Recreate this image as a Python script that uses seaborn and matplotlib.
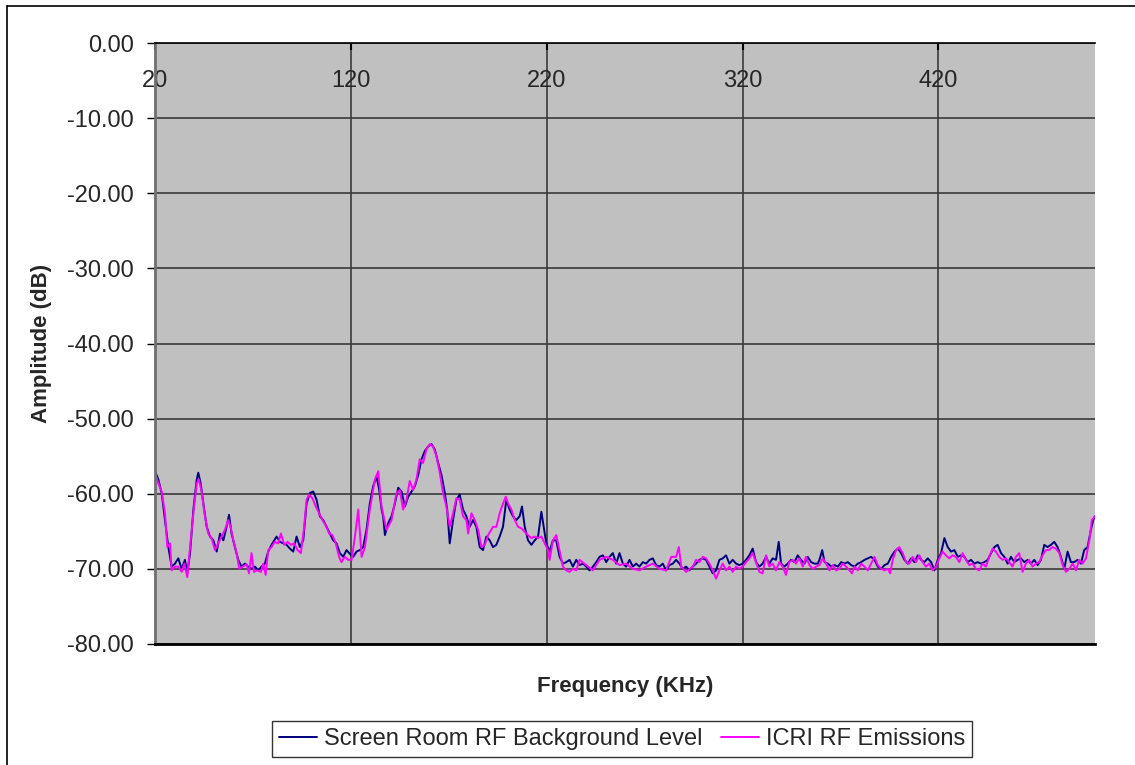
import numpy as np
import pandas as pd
import matplotlib
matplotlib.use("Agg")
import matplotlib.pyplot as plt
from matplotlib.lines import Line2D
from matplotlib.ticker import FormatStrFormatter
import seaborn as sns

sns.set_theme(style="white")
plt.rcParams['font.family'] = ['Liberation Sans', 'DejaVu Sans']

# series names
bg_name = "Screen Room RF Background Level"
icri_name = "ICRI RF Emissions"

# background level (KHz, dB)
freq_bg = [20.0, 21.7, 23.4, 25.1, 26.8, 28.5, 30.2, 31.9, 33.6, 35.3, 36.5, 37.9, 39.6, 41.3, 42.1,
           43.3, 44.7, 46.4, 48.1, 49.8, 51.5, 53.2, 54.9, 56.2, 57.8, 59.1, 60.8, 62.5, 64.2, 65.9,
           67.6, 69.3, 71.0, 72.7, 74.4, 76.1, 77.8, 79.5, 82.1, 83.8, 85.5, 87.2, 88.9, 90.6, 92.3,
           94.0, 95.7, 97.4, 99.1, 100.8, 102.5, 104.2, 105.9, 107.6, 109.3, 111.0, 112.7, 114.4,
           116.1, 117.8, 119.5, 121.2, 122.9, 124.6, 126.3, 128.0, 129.7, 131.4, 133.1, 134.5,
           135.7, 136.5, 137.4, 139.1, 140.8, 142.5, 144.2, 145.9, 147.6, 149.3, 151.0, 152.7,
           154.4, 156.1, 157.8, 159.5, 161.2, 162.9, 164.6, 166.3, 168.0, 169.2, 170.5, 172.2,
           173.9, 175.6, 177.3, 179.0, 180.7, 182.4, 184.1, 185.8, 187.5, 189.2, 190.9, 192.6,
           194.3, 196.0, 197.7, 199.4, 201.1, 202.8, 204.5, 206.2, 207.4, 208.8, 210.5, 212.2,
           213.9, 215.6, 217.3, 218.5, 219.8, 221.5, 223.2, 224.9, 226.6, 228.3, 230.0, 231.7,
           233.4, 235.1, 236.8, 238.5, 240.2, 241.9, 243.6, 245.3, 247.0, 248.7, 250.4, 252.1,
           253.8, 255.5, 257.2, 258.9, 260.6, 262.3, 264.0, 265.7, 267.4, 269.1, 270.8, 272.5,
           274.2, 275.9, 277.6, 279.3, 281.0, 282.7, 284.4, 286.1, 287.8, 289.5, 291.2, 292.9,
           294.6, 296.3, 298.0, 299.7, 301.4, 303.1, 304.8, 306.5, 308.2, 309.9, 311.6, 313.3,
           315.0, 316.7, 318.4, 320.1, 321.8, 323.5, 325.2, 326.9, 328.6, 330.3, 332.0, 333.7,
           335.4, 337.1, 338.5, 339.7, 341.4, 343.1, 344.8, 346.5, 348.2, 349.9, 351.6, 353.3,
           355.0, 356.7, 358.4, 359.3, 360.7, 361.9, 363.6, 365.3, 367.0, 368.7, 370.4, 372.1,
           373.8, 375.5, 377.2, 378.9, 380.6, 382.3, 384.0, 385.7, 387.4, 389.1, 390.8, 392.5,
           394.2, 395.9, 397.6, 399.3, 401.0, 402.7, 404.4, 406.1, 407.8, 409.5, 411.2, 412.9,
           414.6, 416.3, 418.0, 419.7, 421.4, 423.1, 424.8, 426.5, 428.2, 429.9, 431.6, 433.3,
           435.0, 436.7, 438.4, 440.1, 441.8, 443.5, 445.2, 446.9, 448.6, 450.3, 452.0, 453.7,
           455.4, 457.1, 458.8, 460.5, 462.2, 463.9, 465.6, 467.3, 469.0, 470.7, 472.4, 474.1,
           475.8, 477.5, 479.2, 480.9, 482.6, 484.3, 486.0, 487.7, 489.4, 491.1, 492.8, 494.5,
           496.2, 497.9, 499.1, 500.0]
amp_bg = [-57.0, -58.1, -59.9, -63.5, -67.1, -69.7, -69.3, -68.6, -70.0, -68.8, -70.6, -67.9, -62.1, -58.1, -57.2,
          -58.6, -61.3, -64.4, -65.7, -66.2, -67.7, -65.3, -66.2, -64.8, -62.8, -65.3, -67.1, -68.8, -69.7, -69.3,
          -69.7, -70.0, -69.7, -70.2, -69.7, -69.3, -67.7, -66.8, -65.7, -66.4, -66.6, -66.8, -67.3, -67.7, -65.7,
          -67.1, -66.2, -61.3, -59.9, -59.7, -60.8, -63.0, -63.5, -64.4, -65.3, -66.2, -66.6, -67.9,
          -68.4, -67.5, -68.0, -68.4, -67.7, -67.5, -67.1, -64.8, -61.3, -59.0, -57.7, -59.5,
          -62.1, -63.0, -65.5, -63.9, -63.0, -61.3, -59.2, -59.7, -61.7, -60.4, -59.7, -59.0,
          -57.5, -55.4, -54.3, -53.7, -53.4, -54.1, -55.9, -57.5, -59.9, -62.1, -66.6, -63.5,
          -60.8, -60.1, -62.1, -63.0, -64.4, -63.5, -64.4, -67.1, -67.5, -65.7, -66.2, -67.1,
          -66.8, -65.7, -64.4, -60.8, -62.1, -63.0, -63.5, -63.0, -61.7, -64.4, -66.2, -66.8,
          -66.2, -65.7, -62.4, -64.4, -66.6, -67.7, -66.2, -66.2, -68.4, -69.3, -69.1, -68.8,
          -69.7, -68.8, -69.5, -69.3, -69.7, -70.2, -69.7, -69.1, -68.4, -68.2, -69.1, -68.4,
          -67.9, -69.3, -67.9, -69.3, -69.7, -68.8, -69.7, -69.3, -69.7, -69.1, -69.3, -68.8,
          -68.6, -69.5, -69.7, -69.3, -70.2, -69.5, -69.3, -68.8, -69.3, -70.0, -69.7, -70.2,
          -69.7, -69.3, -68.8, -68.6, -68.8, -69.7, -70.6, -70.2, -68.8, -68.6, -68.2, -69.3,
          -68.8, -69.3, -69.5, -69.3, -68.8, -68.2, -67.3, -69.1, -69.7, -69.3, -68.4, -69.3,
          -68.6, -68.8, -66.4, -69.3, -69.7, -69.3, -68.8, -69.1, -68.2, -68.8, -69.3, -68.4,
          -69.1, -69.3, -69.3, -68.8, -67.5, -69.1, -69.3, -69.7, -69.5, -69.7, -69.1, -69.3,
          -69.1, -69.5, -69.7, -69.3, -69.1, -68.8, -68.6, -68.4, -68.8, -69.7, -70.0, -69.5,
          -69.3, -68.4, -67.7, -67.3, -67.9, -68.8, -69.3, -68.6, -69.1, -68.2, -68.8, -69.1,
          -68.6, -69.1, -70.2, -68.8, -67.9, -65.9, -67.1, -67.7, -67.5, -68.4, -68.2, -68.4,
          -69.1, -68.8, -69.3, -69.1, -69.3, -69.1, -68.8, -67.9, -67.1, -66.8, -67.9, -68.4,
          -69.3, -68.4, -69.1, -68.8, -68.6, -69.1, -68.8, -69.3, -68.8, -69.5, -68.8, -66.8,
          -67.1, -66.8, -66.4, -67.1, -68.4, -70.0, -67.7, -69.1, -69.1, -68.8, -69.3, -67.5,
          -67.1, -64.8, -63.5, -63.0]

# ICRI emissions (KHz, dB)
freq_icri = [20.0, 21.7, 23.4, 25.1, 26.3, 27.7, 28.5, 30.2, 31.9, 33.6, 35.0, 36.5, 37.9, 39.6, 41.3,
             42.4, 43.8, 45.5, 47.2, 48.9, 50.6, 52.3, 54.0, 55.7, 57.4, 58.6, 60.0, 61.7, 63.0,
             64.7, 66.8, 68.0, 69.3, 70.5, 72.2, 74.1, 75.3, 76.5, 77.8, 79.5, 81.2, 82.9, 84.3,
             86.0, 87.7, 89.4, 91.1, 92.8, 94.5, 96.0, 97.4, 98.7, 100.4, 102.1, 103.8, 105.5,
             107.2, 108.9, 110.6, 112.3, 114.0, 115.2, 116.9, 118.6, 120.4, 122.1, 123.8, 125.5,
             127.2, 129.7, 132.3, 134.0, 135.7, 138.2, 140.8, 143.3, 145.0, 146.7, 148.4, 150.1,
             151.8, 153.5, 155.2, 156.9, 158.6, 160.3, 162.0, 163.7, 165.4, 167.1, 168.8, 170.5,
             172.2, 173.9, 175.6, 177.3, 179.0, 179.9, 181.6, 183.3, 185.0, 186.7, 188.4, 190.1,
             192.6, 194.3, 196.0, 197.7, 199.1, 200.3, 202.0, 203.7, 205.4, 207.1, 209.6, 212.2,
             213.9, 215.6, 217.3, 219.0, 220.7, 221.5, 223.2, 224.9, 228.3, 230.0, 231.7, 233.4,
             235.1, 236.8, 240.2, 243.6, 247.0, 250.4, 253.8, 257.2, 260.6, 264.0, 267.4, 270.8,
             274.2, 277.6, 281.0, 283.6, 286.1, 287.5, 288.7, 291.2, 294.6, 296.3, 298.0, 299.7,
             301.4, 303.1, 304.8, 306.5, 308.2, 309.9, 311.6, 313.3, 315.0, 316.7, 318.4, 320.1,
             321.8, 323.5, 325.2, 326.9, 328.6, 330.3, 332.0, 333.7, 335.4, 337.1, 338.8, 340.5,
             342.2, 343.9, 345.6, 347.3, 349.0, 350.8, 352.4, 354.2, 355.9, 357.6, 359.3, 361.0,
             362.7, 364.4, 366.1, 367.8, 369.5, 371.2, 372.9, 374.6, 376.0, 377.2, 378.9, 380.6,
             382.3, 384.0, 385.7, 387.4, 389.1, 390.8, 392.5, 394.2, 395.4, 396.7, 398.4, 400.1,
             401.8, 403.5, 405.2, 406.9, 408.6, 410.3, 412.0, 413.7, 415.4, 417.1, 418.8, 420.5,
             422.2, 423.9, 425.6, 427.3, 429.0, 430.7, 432.4, 434.1, 435.8, 437.5, 439.2, 440.9,
             442.6, 444.3, 446.0, 447.7, 449.4, 451.1, 452.8, 454.5, 456.2, 457.9, 459.6, 461.3,
             463.0, 464.7, 466.4, 468.1, 469.8, 471.5, 473.2, 474.9, 476.6, 478.3, 480.0, 481.8,
             483.5, 485.2, 486.9, 488.6, 490.3, 491.9, 493.7, 495.4, 497.1, 498.4, 500.0]
amp_icri = [-57.2, -58.6, -59.7, -62.6, -67.1, -66.6, -70.2, -69.7, -69.7, -70.4, -69.3, -71.1, -67.1, -62.6, -58.6,
            -58.1, -59.7, -63.0, -65.3, -65.9, -67.5, -66.6, -65.7, -64.8, -63.5, -64.4, -66.2, -67.9, -70.0,
            -69.7, -69.4, -70.6, -67.9, -70.4, -70.2, -70.4, -69.3, -70.8, -67.5, -67.1, -66.4, -66.6, -65.3,
            -66.8, -66.4, -66.8, -66.6, -67.5, -67.9, -64.8, -60.8, -60.1, -60.6, -61.7, -62.6, -63.5,
            -64.2, -65.3, -65.5, -66.6, -68.4, -69.1, -68.4, -68.8, -68.8, -65.7, -62.1, -68.4,
            -67.1, -62.1, -58.1, -57.0, -61.7, -64.8, -63.5, -59.9, -59.5, -62.1, -60.8, -58.3,
            -59.5, -58.1, -55.4, -55.9, -54.1, -53.4, -53.7, -55.0, -57.2, -59.9, -61.7, -64.4,
            -62.6, -60.6, -60.8, -63.0, -63.5, -65.3, -62.6, -63.5, -64.8, -67.1, -66.8, -65.5,
            -64.4, -64.4, -62.6, -61.3, -60.4, -61.3, -62.1, -63.5, -64.4, -64.6, -65.3, -65.9,
            -65.7, -65.9, -65.7, -66.6, -67.5, -68.8, -66.2, -65.5, -69.7, -70.2, -70.4, -70.0,
            -70.2, -68.8, -69.5, -70.2, -68.8, -68.4, -68.8, -69.5, -69.3, -70.0, -70.2, -69.7,
            -69.3, -70.0, -70.2, -68.4, -68.4, -67.1, -69.7, -70.4, -69.7, -68.8, -69.1, -68.4,
            -68.6, -69.3, -70.2, -71.3, -70.2, -69.3, -70.2, -69.7, -70.4, -69.7, -70.0, -69.7,
            -69.1, -68.6, -67.9, -69.1, -70.4, -70.6, -68.2, -69.7, -69.3, -70.2, -69.1, -69.7,
            -70.8, -69.1, -68.8, -69.3, -68.6, -69.7, -68.4, -69.5, -70.0, -69.7, -69.5, -68.6,
            -69.3, -70.2, -69.5, -70.2, -70.0, -69.3, -69.7, -70.2, -70.6, -69.7, -70.2, -69.3,
            -69.7, -70.2, -69.3, -68.4, -69.5, -70.0, -70.2, -70.0, -70.6, -68.8, -67.5, -67.1,
            -67.9, -69.1, -69.3, -68.4, -69.1, -68.2, -69.1, -69.7, -69.3, -70.2, -69.7, -68.6,
            -67.7, -68.2, -68.6, -68.2, -68.4, -69.1, -67.9, -68.8, -69.5, -69.3, -70.0, -70.2,
            -69.3, -69.7, -68.4, -67.3, -67.7, -68.4, -68.8, -68.6, -69.1, -69.7, -68.4, -67.9,
            -70.4, -69.3, -68.8, -69.7, -69.3, -69.1, -68.2, -67.5, -67.5, -67.1, -67.3, -67.9,
            -69.5, -70.4, -70.0, -69.3, -70.2, -68.8, -69.3, -68.6, -66.2, -63.5, -63.0]

x_ticks = [20, 120, 220, 320, 420]
y_ticks = [0, -10, -20, -30, -40, -50, -60, -70, -80]

df = pd.concat([
    pd.DataFrame({"freq": freq_bg, "amp": amp_bg, "series": bg_name}),
    pd.DataFrame({"freq": freq_icri, "amp": amp_icri, "series": icri_name}),
])

fig = plt.figure(figsize=(11.35, 7.65), dpi=100)
fig.patch.set_facecolor("white")
ax = fig.add_axes([155/1135, 1-644/765, 940/1135, 601/765])
ax.set_facecolor("#C0C0C0")

colors = {bg_name: "#000080", icri_name: "#FF00FF"}
sns.lineplot(data=df, x="freq", y="amp", hue="series", hue_order=[bg_name, icri_name],
             palette=colors, estimator=None, sort=False, lw=1.4, ax=ax, legend=False)

ax.set_xlim(20, 500)
ax.set_ylim(-80, 0)
ax.set_xticks(x_ticks)
ax.set_yticks(y_ticks)
ax.yaxis.set_major_formatter(FormatStrFormatter('%.2f'))

ax.grid(True, color="#3a3a3a", lw=1.2)
ax.set_axisbelow(True)

ax.xaxis.set_ticks_position('top')
ax.tick_params(axis='x', which='both', top=True, bottom=False, labeltop=True, labelbottom=False,
               direction='in', length=5, width=1.5, color='black', pad=-35, labelsize=17)
ax.tick_params(axis='y', direction='out', length=6, width=1, color='black', pad=9,
               labelsize=17, left=True)

for side in ["right"]:
    ax.spines[side].set_visible(False)
ax.spines["top"].set_color("black")
ax.spines["top"].set_linewidth(1.2)
ax.spines["bottom"].set_color("black")
ax.spines["bottom"].set_linewidth(2)
ax.spines["left"].set_color("#707070")
ax.spines["left"].set_linewidth(2)

ax.set_xlabel("Frequency (KHz)", fontsize=16, fontweight="bold")
ax.set_ylabel("Amplitude (dB)", fontsize=16, fontweight="bold")
ax.xaxis.set_label_position('bottom')
ax.xaxis.set_label_coords(0.5, -0.053)
ax.yaxis.set_label_coords(-0.11, 0.5)

handles = [Line2D([], [], color=colors[bg_name], lw=1.4),
           Line2D([], [], color=colors[icri_name], lw=1.4)]
leg = fig.legend(handles, [bg_name, icri_name], loc='center',
                 bbox_to_anchor=(622/1135, 1-739/765), ncol=2, fontsize=17,
                 frameon=True, fancybox=False, edgecolor='black', handlelength=1.6,
                 handletextpad=0.3, columnspacing=0.8, borderpad=0.3)
leg.get_frame().set_linewidth(1)

# chart area border (left and top visible)
fig.add_artist(Line2D([7/1135, 7/1135], [0, 1-6/765], color='black', lw=1.2))
fig.add_artist(Line2D([7/1135, 1], [1-6/765, 1-6/765], color='black', lw=1.2))

fig.savefig("out.png", dpi=100)
